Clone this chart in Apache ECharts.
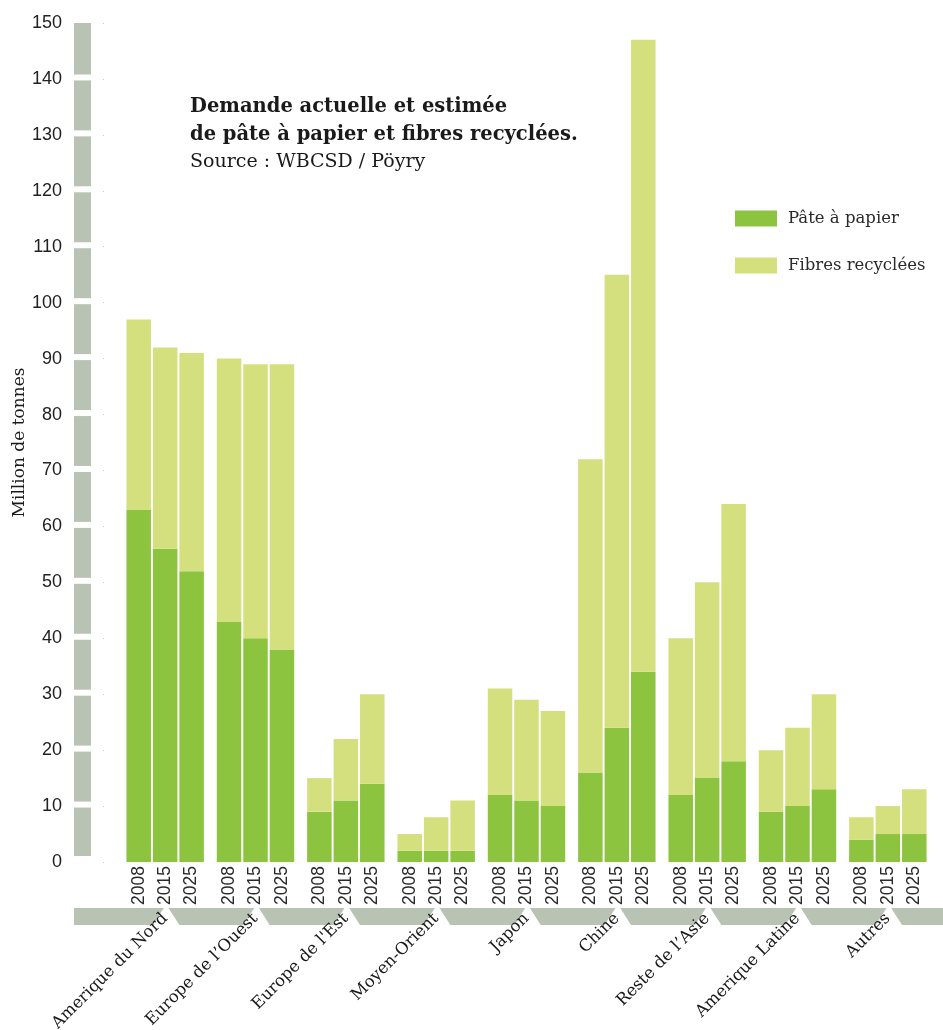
<!DOCTYPE html>
<html><head><meta charset="utf-8">
<script src="https://cdn.jsdelivr.net/npm/echarts@6/dist/echarts.min.js"></script>
<style>html,body{margin:0;padding:0;background:#fff}#c{width:943px;height:1030px}</style>
</head><body><div id="c"></div>
<script>
const categories = ['Amerique du Nord', 'Europe de l\u2019Ouest', "Europe de l'Est", 'Moyen-Orient', 'Japon', 'Chine', 'Reste de l\u2019Asie', 'Amerique Latine', 'Autres'];
const years = ['2008', '2015', '2025'];
const pate2008 = [63, 43, 9, 2, 12, 16, 12, 9, 4];
const pate2015 = [56, 40, 11, 2, 11, 24, 15, 10, 5];
const pate2025 = [52, 38, 14, 2, 10, 34, 18, 13, 5];
const fibres2008 = [34, 47, 6, 3, 19, 56, 28, 11, 4];
const fibres2015 = [36, 49, 11, 6, 18, 81, 35, 14, 5];
const fibres2025 = [39, 51, 16, 9, 17, 113, 46, 17, 8];
const yTicks = [0, 10, 20, 30, 40, 50, 60, 70, 80, 90, 100, 110, 120, 130, 140, 150];

const GREEN = '#8cc440', LIGHT = '#d4e07e', GRAY = '#b8c3b3';
const SERIF = '"DejaVu Serif", "Liberation Serif", serif';
const SANS = '"Liberation Sans", Arial, sans-serif';

const pate = [pate2008, pate2015, pate2025];
const fibres = [fibres2008, fibres2015, fibres2025];
const series = [];
years.forEach((y, i) => {
  series.push({
    name: 'Pâte à papier', type: 'bar', stack: y, data: pate[i],
    barWidth: 24.5, barGap: '8%', z: 5,
    itemStyle: { color: GREEN },
    label: { show: true, position: 'bottom', rotate: 90, align: 'right', verticalAlign: 'middle',
      distance: 4, formatter: () => y, fontFamily: SANS, fontSize: 17.5, color: '#2a2a2a' },
    emphasis: { disabled: true }, silent: true
  });
  series.push({
    name: 'Fibres recyclées', type: 'bar', stack: y, data: fibres[i],
    barWidth: 24.5, barGap: '8%', z: 5,
    itemStyle: { color: LIGHT },
    emphasis: { disabled: true }, silent: true
  });
});

const chart = echarts.init(document.getElementById('c'), null, { renderer: 'canvas' });
chart.setOption({
  animation: false,
  backgroundColor: '#fff',
  title: {
    text: 'Demande actuelle et estimée\nde pâte à papier et fibres recyclées.',
    subtext: 'Source : WBCSD / Pöyry',
    left: 185, top: 88, itemGap: 0,
    textStyle: { fontFamily: SERIF, fontWeight: 'bold', fontSize: 19.5, lineHeight: 28, color: '#1a1a1a' },
    subtextStyle: { fontFamily: SERIF, fontSize: 19, lineHeight: 27, color: '#1a1a1a' }
  },
  legend: {
    data: ['Pâte à papier', 'Fibres recyclées'],
    orient: 'vertical', left: 730, top: 205,
    itemWidth: 42, itemHeight: 16, itemGap: 30, icon: 'rect',
    textStyle: { fontFamily: SERIF, fontSize: 16.5, color: '#2a2a2a', padding: [0, 0, 0, 6] },
    selectedMode: false
  },
  grid: { left: 120, right: 10, top: 23, bottom: 168, containLabel: false, outerBoundsMode: 'none' },
  xAxis: {
    type: 'category', data: categories, z: 20,
    axisLine: { show: false }, axisTick: { show: false },
    axisLabel: { interval: 0, rotate: 45, margin: 54, fontFamily: SERIF, fontSize: 16.5, color: '#1a1a1a' }
  },
  yAxis: {
    type: 'value', min: 0, max: 150, interval: 10, offset: 16, z: 20,
    name: 'Million de tonnes', nameLocation: 'middle', nameRotate: 90, nameGap: 76, nameMoveOverlap: false,
    nameTextStyle: { fontFamily: SERIF, fontSize: 17, color: '#1a1a1a' },
    axisLine: { show: false },
    axisTick: { show: true, length: 1, lineStyle: { color: '#c8c8c8' } },
    splitLine: { show: false },
    axisLabel: { margin: 42, fontFamily: SANS, fontSize: 18, color: '#222' }
  },
  series: series
});

// decorations: gray column along y axis and gray band with notches under the x axis
const graphics = [];
const colX0 = 74, colX1 = 91;
for (let k = 0; k < yTicks.length - 1; k++) {
  const yLow = chart.convertToPixel({ yAxisIndex: 0 }, yTicks[k]);
  const yHigh = chart.convertToPixel({ yAxisIndex: 0 }, yTicks[k + 1]);
  const top = (k + 1 === yTicks.length - 1) ? yHigh : yHigh + 1.5;
  const bottom = (k === 0) ? yLow - 6 : yLow - 4.5;
  graphics.push({ type: 'rect', shape: { x: colX0, y: top, width: colX1 - colX0, height: bottom - top },
    style: { fill: GRAY }, silent: true, z: -10 });
}
const bandTop = 908, bandH = 17;
graphics.push({ type: 'rect', shape: { x: 74, y: bandTop, width: 943 - 74, height: bandH }, style: { fill: GRAY }, silent: true, z: -10 });
categories.forEach((c) => {
  const cx = chart.convertToPixel({ xAxisIndex: 0 }, c) + 1;
  graphics.push({ type: 'polygon', shape: { points: [[cx - 13.5, bandTop + bandH + 0.5], [cx - 2, bandTop - 0.5], [cx + 2, bandTop - 0.5], [cx + 13.5, bandTop + bandH + 0.5]] },
    style: { fill: '#fff' }, silent: true, z: -9 });
});
chart.setOption({ graphic: { elements: graphics, z: -10 } });
</script>
</body></html>
